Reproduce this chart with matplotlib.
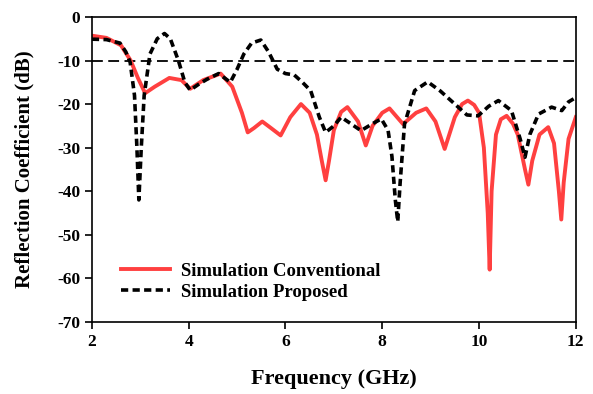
import matplotlib
matplotlib.use("Agg")
import matplotlib.pyplot as plt

plt.rcParams['font.family'] = ['Liberation Serif', 'DejaVu Serif']
plt.rcParams['font.weight'] = 'bold'

conv_f = [2.0, 2.3, 2.6, 2.8, 2.95, 3.1, 3.3, 3.6, 3.85, 4.03, 4.3, 4.66, 4.9, 5.1, 5.22,
          5.35, 5.52, 5.7, 5.9, 6.1, 6.32, 6.5, 6.65, 6.75, 6.83, 6.9, 7.0, 7.15, 7.28, 7.5, 7.66,
          7.8, 8.0, 8.15, 8.43, 8.7, 8.91, 9.1, 9.29, 9.5, 9.65, 9.77, 9.9, 10.0, 10.1, 10.18, 10.22,
          10.26, 10.35, 10.45, 10.57, 10.7, 10.8, 10.95, 11.02, 11.1, 11.25, 11.43, 11.55, 11.65, 11.70,
          11.75, 11.85, 12.0]
conv_db = [-4.3, -4.8, -6.5, -10.0, -14.0, -17.5, -16.0, -14.0, -14.5, -16.5, -14.5, -13.0,
           -16.0, -22.0, -26.5, -25.5, -24.0, -25.5, -27.2, -23.0, -20.0, -22.0, -27.0, -33.0,
           -37.5, -33.0, -26.0, -21.8, -20.7, -24.0, -29.5, -25.0, -22.0, -21.0, -24.6, -22.0, -21.0,
           -24.0, -30.3, -23.0, -20.0, -19.2, -20.2, -22.0, -30.0, -45.0, -58.0, -40.0, -27.0, -23.5,
           -22.7, -24.5, -27.0, -35.0, -38.5, -33.0, -27.0, -25.3, -29.0, -40.0, -46.5, -38.0, -28.0,
           -23.0]

prop_f = [2.0, 2.3, 2.58, 2.7, 2.79, 2.88, 2.93, 2.97, 3.02, 3.08, 3.2, 3.35, 3.5, 3.62, 3.79,
          3.92, 4.03, 4.2, 4.38, 4.62, 4.86, 5.0, 5.14, 5.3, 5.49, 5.65, 5.83, 6.0, 6.18, 6.35,
          6.52, 6.7, 6.83, 7.0, 7.15, 7.35, 7.56, 7.8, 7.98, 8.12, 8.2, 8.27, 8.32, 8.37, 8.46,
          8.67, 8.94, 9.2, 9.57, 9.75, 9.98, 10.2, 10.4, 10.67, 10.85, 10.95, 11.05, 11.23,
          11.5, 11.71, 11.85, 12.0]
prop_db = [-5.1, -5.2, -6.0, -8.0, -10.4, -18.0, -30.0, -42.0, -30.0, -18.0, -8.5, -5.0, -3.8,
           -5.0, -10.1, -15.0, -16.8, -15.5, -14.3, -13.0, -15.0, -12.0, -8.5, -6.0, -5.3, -8.0,
           -12.0, -13.0, -13.3, -15.0, -16.9, -23.0, -26.5, -25.0, -23.0, -24.5, -26.1, -24.5,
           -23.4, -26.0, -32.0, -42.0, -47.0, -38.0, -24.6, -16.9, -14.9, -17.0, -20.7, -22.5,
           -22.7, -20.5, -19.2, -21.5, -28.0, -32.2, -27.0, -22.3, -20.7, -21.5, -19.5, -18.5]

ref_level = -10
x_ticks = [2, 4, 6, 8, 10, 12]
y_ticks = [0, -10, -20, -30, -40, -50, -60, -70]

fig = plt.figure(figsize=(5.93, 3.94), dpi=100)
ax = fig.add_axes([0.155, 0.183, 0.816, 0.774])

ax.axhline(ref_level, color='black', lw=1.3, ls=(0, (6, 3)), zorder=1)
ax.plot(conv_f, conv_db, color='#ff4040', lw=2.8, label='Simulation Conventional', zorder=2,
        solid_joinstyle='round')
ax.plot(prop_f, prop_db, color='black', lw=2.6, ls=(0, (2.0, 1.2)), label='Simulation Proposed', zorder=3)

ax.set_xlim(2, 12)
ax.set_ylim(-70, 0)
ax.set_xticks(x_ticks)
ax.set_yticks(y_ticks)
ax.set_xticklabels([str(t) for t in x_ticks])
ax.set_yticklabels([str(t) for t in y_ticks])
ax.tick_params(direction='out', length=5, width=1.2, labelsize=12.5, top=False, right=False)
for s in ax.spines.values():
    s.set_linewidth(1.2)

ax.set_xlabel('Frequency (GHz)', fontsize=16, fontweight='bold', labelpad=14)
ax.set_ylabel('Reflection Coefficient (dB)', fontsize=15, fontweight='bold', labelpad=16)

ax.legend(loc='lower left', bbox_to_anchor=(0.045, 0.045), frameon=False, fontsize=13.5,
          handlelength=2.6, handletextpad=0.6, labelspacing=0.2, borderaxespad=0)

fig.savefig('out.png', dpi=100)
